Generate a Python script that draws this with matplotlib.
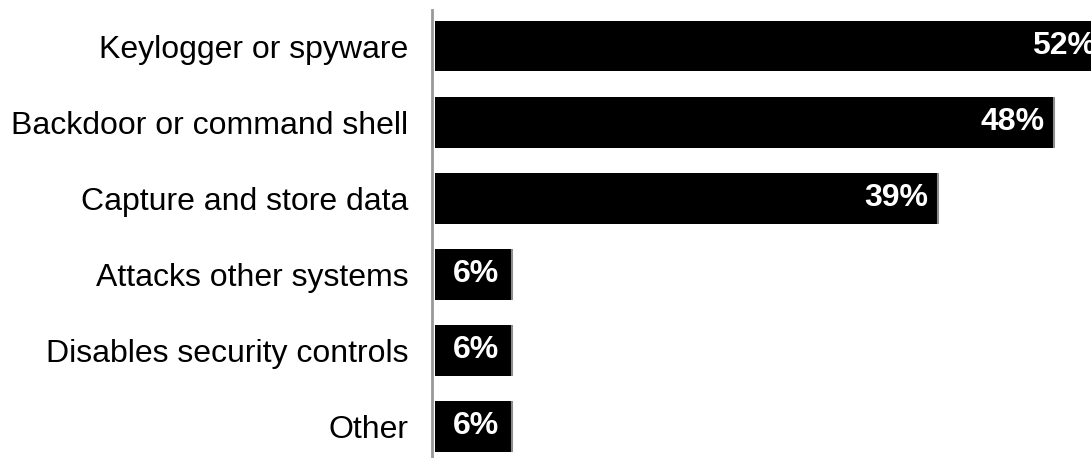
import matplotlib
matplotlib.use("Agg")
import matplotlib.pyplot as plt

plt.rcParams["font.family"] = ["Liberation Sans", "DejaVu Sans"]

categories = ["Keylogger or spyware", "Backdoor or command shell",
              "Capture and store data", "Attacks other systems",
              "Disables security controls", "Other"]
percent = [52, 48, 39, 6, 6, 6]

W, H = 1091, 458
fig = plt.figure(figsize=(W / 100, H / 100), dpi=100)
# the longest bar runs past the right edge of the figure
ax = fig.add_axes([435 / W, 0, 671 / W, 448 / H])

pos = list(range(len(categories)))
ax.barh(pos, percent, height=0.67, color="black", edgecolor="none")
# thin grey edge on the right end of each bar
ax.vlines(percent, [p - 0.335 for p in pos], [p + 0.335 for p in pos],
          color="#8c8c8c", linewidth=1.5)

for p, v in zip(pos, percent):
    ax.annotate(f"{v}%", xy=(v, p), xytext=(-10 if v > 10 else -13, 0),
                textcoords="offset pixels", ha="right", va="center",
                color="white", fontsize=23, fontweight="bold")

ax.set_xlim(0, 52)
ax.set_ylim(5.42, -0.474)
ax.set_yticks(pos)
ax.set_yticklabels(categories)
ax.tick_params(axis="y", length=0, pad=17, labelsize=23)
ax.set_xticks([])
for side in ["top", "right", "bottom"]:
    ax.spines[side].set_visible(False)
ax.spines["left"].set_color("#999999")
ax.spines["left"].set_linewidth(2)
ax.spines["left"].set_position(("outward", 2))

fig.savefig("out.png", dpi=100)
